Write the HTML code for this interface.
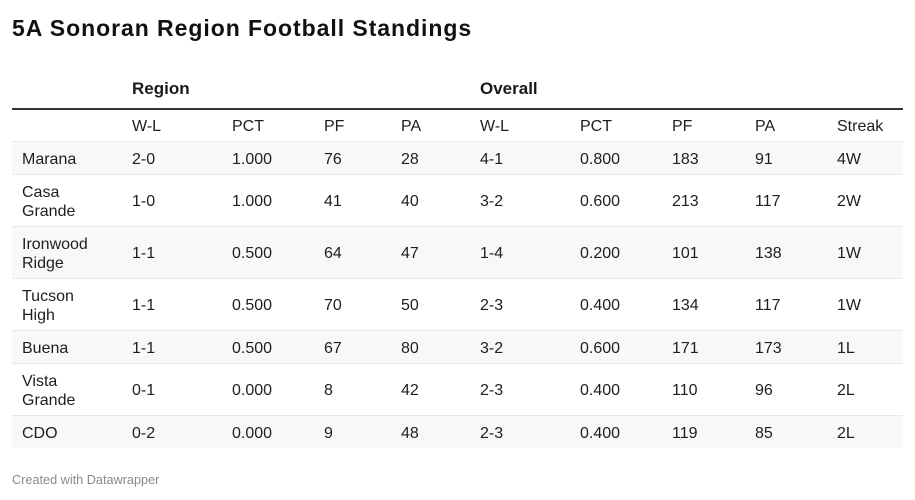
<!DOCTYPE html>
<html>
<head>
<meta charset="utf-8">
<style>
  html, body { margin:0; padding:0; background:#fff; }
  body { width:915px; height:500px; position:relative; overflow:hidden;
         font-family:"Liberation Sans", Arial, sans-serif; color:#222; }
  .title { position:absolute; left:12px; top:16.5px; font-size:23px; line-height:23px;
           font-weight:bold; letter-spacing:0.95px; color:#111; white-space:nowrap; }
  .grp { position:absolute; top:79.8px; font-size:17px; line-height:17px; font-weight:bold; color:#1a1a1a; }
  .thick { position:absolute; left:12px; width:891px; top:108px; height:2px; background:#333; }
  .row { position:absolute; left:12px; width:891px; box-sizing:border-box; }
  .row.g { background:#f8f8f8; }
  .line { position:absolute; left:12px; width:891px; height:1px; background:#e9e9e9; }
  .c { position:absolute; top:1px; height:100%; display:flex; align-items:center;
       font-size:16px; line-height:19px; white-space:nowrap; color:#1e1e1e; }
  .foot { position:absolute; left:12px; top:474.2px; font-size:12.7px; line-height:12.7px; color:#8a8a8a; }
</style>
</head>
<body>
<div class="title">5A Sonoran Region Football Standings</div>
<div class="grp" style="left:132px">Region</div>
<div class="grp" style="left:480px">Overall</div>
<div class="thick"></div>

<!-- subheader -->
<div class="row" style="top:110px;height:31px;">
  <div class="c" style="left:120px">W-L</div>
  <div class="c" style="left:220px">PCT</div>
  <div class="c" style="left:312px">PF</div>
  <div class="c" style="left:389px">PA</div>
  <div class="c" style="left:468px">W-L</div>
  <div class="c" style="left:568px">PCT</div>
  <div class="c" style="left:660px">PF</div>
  <div class="c" style="left:743px">PA</div>
  <div class="c" style="left:825px">Streak</div>
</div>
<div class="line" style="top:141px"></div>

<div class="row g" style="top:142px;height:32px;">
  <div class="c" style="left:10px">Marana</div>
  <div class="c" style="left:120px">2-0</div>
  <div class="c" style="left:220px">1.000</div>
  <div class="c" style="left:312px">76</div>
  <div class="c" style="left:389px">28</div>
  <div class="c" style="left:468px">4-1</div>
  <div class="c" style="left:568px">0.800</div>
  <div class="c" style="left:660px">183</div>
  <div class="c" style="left:743px">91</div>
  <div class="c" style="left:825px">4W</div>
</div>
<div class="line" style="top:174px"></div>

<div class="row" style="top:175px;height:51px;">
  <div class="c" style="left:10px">Casa<br>Grande</div>
  <div class="c" style="left:120px">1-0</div>
  <div class="c" style="left:220px">1.000</div>
  <div class="c" style="left:312px">41</div>
  <div class="c" style="left:389px">40</div>
  <div class="c" style="left:468px">3-2</div>
  <div class="c" style="left:568px">0.600</div>
  <div class="c" style="left:660px">213</div>
  <div class="c" style="left:743px">117</div>
  <div class="c" style="left:825px">2W</div>
</div>
<div class="line" style="top:226px"></div>

<div class="row g" style="top:227px;height:51px;">
  <div class="c" style="left:10px">Ironwood<br>Ridge</div>
  <div class="c" style="left:120px">1-1</div>
  <div class="c" style="left:220px">0.500</div>
  <div class="c" style="left:312px">64</div>
  <div class="c" style="left:389px">47</div>
  <div class="c" style="left:468px">1-4</div>
  <div class="c" style="left:568px">0.200</div>
  <div class="c" style="left:660px">101</div>
  <div class="c" style="left:743px">138</div>
  <div class="c" style="left:825px">1W</div>
</div>
<div class="line" style="top:278px"></div>

<div class="row" style="top:279px;height:51px;">
  <div class="c" style="left:10px">Tucson<br>High</div>
  <div class="c" style="left:120px">1-1</div>
  <div class="c" style="left:220px">0.500</div>
  <div class="c" style="left:312px">70</div>
  <div class="c" style="left:389px">50</div>
  <div class="c" style="left:468px">2-3</div>
  <div class="c" style="left:568px">0.400</div>
  <div class="c" style="left:660px">134</div>
  <div class="c" style="left:743px">117</div>
  <div class="c" style="left:825px">1W</div>
</div>
<div class="line" style="top:330px"></div>

<div class="row g" style="top:331px;height:32px;">
  <div class="c" style="left:10px">Buena</div>
  <div class="c" style="left:120px">1-1</div>
  <div class="c" style="left:220px">0.500</div>
  <div class="c" style="left:312px">67</div>
  <div class="c" style="left:389px">80</div>
  <div class="c" style="left:468px">3-2</div>
  <div class="c" style="left:568px">0.600</div>
  <div class="c" style="left:660px">171</div>
  <div class="c" style="left:743px">173</div>
  <div class="c" style="left:825px">1L</div>
</div>
<div class="line" style="top:363px"></div>

<div class="row" style="top:364px;height:51px;">
  <div class="c" style="left:10px">Vista<br>Grande</div>
  <div class="c" style="left:120px">0-1</div>
  <div class="c" style="left:220px">0.000</div>
  <div class="c" style="left:312px">8</div>
  <div class="c" style="left:389px">42</div>
  <div class="c" style="left:468px">2-3</div>
  <div class="c" style="left:568px">0.400</div>
  <div class="c" style="left:660px">110</div>
  <div class="c" style="left:743px">96</div>
  <div class="c" style="left:825px">2L</div>
</div>
<div class="line" style="top:415px"></div>

<div class="row g" style="top:416px;height:32px;">
  <div class="c" style="left:10px">CDO</div>
  <div class="c" style="left:120px">0-2</div>
  <div class="c" style="left:220px">0.000</div>
  <div class="c" style="left:312px">9</div>
  <div class="c" style="left:389px">48</div>
  <div class="c" style="left:468px">2-3</div>
  <div class="c" style="left:568px">0.400</div>
  <div class="c" style="left:660px">119</div>
  <div class="c" style="left:743px">85</div>
  <div class="c" style="left:825px">2L</div>
</div>

<div class="foot">Created with Datawrapper</div>
</body>
</html>
